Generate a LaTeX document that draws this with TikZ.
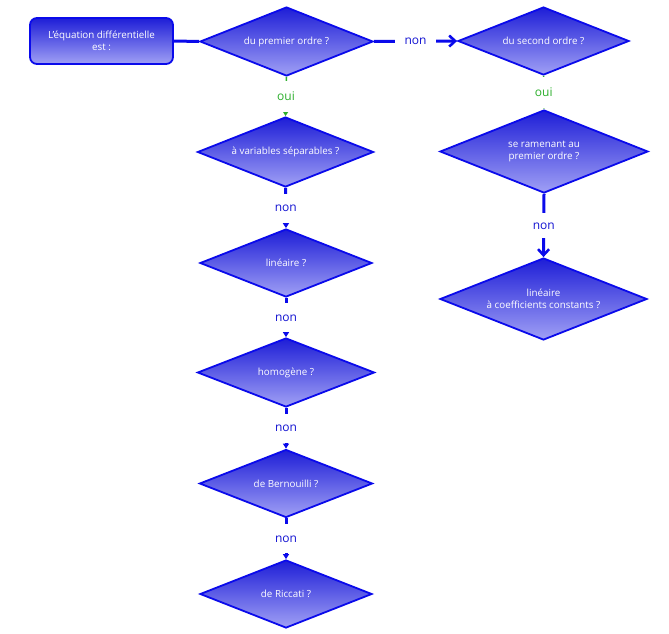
\documentclass[tikz,border=0pt]{standalone}
\usepackage{fontspec}
\setmainfont{Open Sans}
\usetikzlibrary{shapes.geometric,arrows.meta}
\definecolor{dblue}{RGB}{10,10,235}
\definecolor{topb}{RGB}{30,30,215}
\definecolor{botb}{RGB}{160,160,245}
\definecolor{ouig}{RGB}{45,175,45}
\definecolor{nonb}{RGB}{20,20,210}
\begin{document}
\begin{tikzpicture}[x=1pt,y=-1pt,
  qbox/.style={diamond, draw=dblue, line width=1.8pt, top color=topb, bottom color=botb,
    text=white, font=\fontsize{9.8}{12.5}\selectfont, align=center, inner sep=0pt, aspect=2.5},
  startbox/.style={rectangle, rounded corners=7pt, draw=dblue, line width=1.8pt,
    top color=topb, bottom color=botb, text=white, font=\fontsize{9.8}{12.5}\selectfont,
    align=center, minimum width=143pt, minimum height=46pt, inner sep=0pt},
  nonedge/.style={draw=dblue, line width=3pt},
  ouiedge/.style={draw=ouig, line width=1.5pt},
  nonlbl/.style={fill=white, text=nonb, font=\fontsize{12}{12}\selectfont,
    text height=7pt, text depth=0pt, inner xsep=2pt},
  ouilbl/.style={fill=white, text=ouig, font=\fontsize{12}{12}\selectfont,
    text height=7pt, text depth=0pt, inner xsep=2pt},
  smalltip/.style={-{Triangle[width=6pt,length=5pt]}},
  bigtip/.style={-{Straight Barb[width=11pt,length=6pt,line width=2.6pt]}}
]
\useasboundingbox (0,0) rectangle (669,634);

\node[startbox] (start) at (101.5,41) {L'équation différentielle\\est :};
\node[qbox, minimum width=173pt, minimum height=69pt] (d1) at (286.5,41.5) {du premier ordre ?};
\node[qbox, minimum width=171pt, minimum height=68pt] (d2) at (543.5,41) {du second ordre ?};
\node[qbox, minimum width=176pt, minimum height=70pt] (d3) at (285.5,152) {à variables séparables ?};
\node[qbox, minimum width=172pt, minimum height=68pt] (d4) at (286,263) {linéaire ?};
\node[qbox, minimum width=177pt, minimum height=69pt] (d5) at (286,372.5) {homogène ?};
\node[qbox, minimum width=173pt, minimum height=68pt] (d6) at (286,483.5) {de Bernouilli ?};
\node[qbox, minimum width=172pt, minimum height=68pt] (d7) at (286,594) {de Riccati ?};
\node[qbox, minimum width=208pt, minimum height=83pt] (r1) at (544,151.5) {se ramenant au\\premier ordre ?};
\node[qbox, minimum width=207pt, minimum height=82pt] (r2) at (543.5,299) {linéaire\\à coefficients constants ?};

\draw[nonedge] (start.east) -- (d1.west);
\draw[nonedge, bigtip] (d1.east) -- node[nonlbl, inner xsep=10pt, inner ysep=2pt]{non} (d2.west);
\draw[ouiedge, smalltip] (d1.south) -- node[ouilbl, inner ysep=12pt]{oui} (d3.north);
\draw[ouiedge, smalltip] (d2.south) -- node[ouilbl, inner ysep=12pt]{oui} (r1.north);
\draw[nonedge, smalltip] (d3.south) -- node[nonlbl, inner ysep=11pt]{non} (d4.north);
\draw[nonedge, smalltip] (d4.south) -- node[nonlbl, inner ysep=11pt]{non} (d5.north);
\draw[nonedge, smalltip] (d5.south) -- node[nonlbl, inner ysep=11pt]{non} (d6.north);
\draw[nonedge, smalltip] (d6.south) -- node[nonlbl, inner ysep=11pt]{non} (d7.north);
\draw[nonedge, bigtip] (r1.south) -- node[nonlbl, inner ysep=9pt]{non} (r2.north);
\end{tikzpicture}
\end{document}
